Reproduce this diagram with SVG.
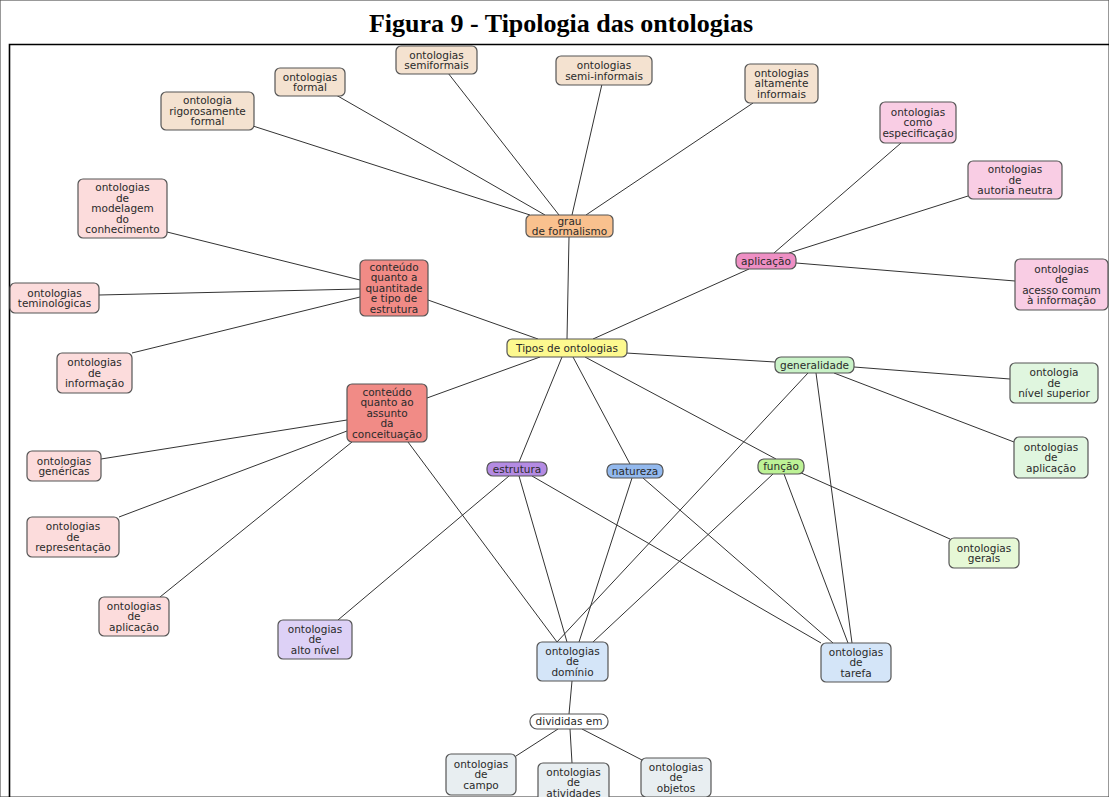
<svg xmlns="http://www.w3.org/2000/svg" width="1109" height="797" viewBox="0 0 1109 797">
<style>
.t{font-family:"DejaVu Sans",Verdana,sans-serif;font-size:10.5px;fill:#2a2a2a;text-anchor:middle}
.title{font-family:"Liberation Serif","Times New Roman",serif;font-size:26px;font-weight:bold;fill:#000;text-anchor:middle}
rect{stroke:#555;stroke-width:1.2}
.beige{fill:#f4e2d0}.orange{fill:#f9c18e}.lpink{fill:#fcdcdc}.salmon{fill:#f18b86}
.pink{fill:#ee8fc4}.ppink{fill:#f9cde4}.yellow{fill:#fdf98f}.lgreen{fill:#c9f2c7}.pgreen{fill:#e0f6df}
.lime{fill:#bdf296}.plime{fill:#e6f8d6}.purple{fill:#b48be3}.lav{fill:#ddd1f6}.blue{fill:#93b9ee}
.lblue{fill:#d4e5f8}.white{fill:#fff}.grey{fill:#e8eef1}
#edges line{stroke:#333;stroke-width:1}
.frame{stroke:#000;stroke-width:1.6;fill:none}
</style>
<rect width="1109" height="797" fill="#fff" stroke="none"/>
<text class="title" x="561" y="32">Figura 9 - Tipologia das ontologias</text>
<path class="frame" d="M9.5,797 V44.5 H1109"/>
<g id="edges">
<line x1="253" y1="126" x2="530" y2="215"/>
<line x1="336" y1="95" x2="545" y2="215"/>
<line x1="448" y1="73" x2="559" y2="215"/>
<line x1="602" y1="84" x2="572" y2="215"/>
<line x1="753" y1="103" x2="586" y2="215"/>
<line x1="569" y1="237" x2="567" y2="339"/>
<line x1="167" y1="232" x2="360" y2="280"/>
<line x1="99" y1="295" x2="360" y2="289"/>
<line x1="132" y1="353" x2="360" y2="297"/>
<line x1="428" y1="300" x2="538" y2="339"/>
<line x1="774" y1="253" x2="901" y2="143"/>
<line x1="789" y1="253" x2="968" y2="196"/>
<line x1="796" y1="263" x2="1015" y2="281"/>
<line x1="749" y1="269" x2="593" y2="339"/>
<line x1="626" y1="353" x2="775" y2="362"/>
<line x1="854" y1="367" x2="1010" y2="379"/>
<line x1="834" y1="373" x2="1014" y2="442"/>
<line x1="808" y1="373" x2="557" y2="642"/>
<line x1="816" y1="373" x2="852" y2="643"/>
<line x1="540" y1="357" x2="427" y2="398"/>
<line x1="562" y1="357" x2="519" y2="462"/>
<line x1="573" y1="357" x2="630" y2="464"/>
<line x1="585" y1="357" x2="776" y2="459"/>
<line x1="347" y1="420" x2="101" y2="459"/>
<line x1="347" y1="431" x2="119" y2="517"/>
<line x1="352" y1="442" x2="160" y2="597"/>
<line x1="408" y1="442" x2="557" y2="642"/>
<line x1="509" y1="476" x2="338" y2="620"/>
<line x1="519" y1="476" x2="567" y2="642"/>
<line x1="532" y1="476" x2="821" y2="643"/>
<line x1="632" y1="478" x2="579" y2="642"/>
<line x1="643" y1="478" x2="833" y2="643"/>
<line x1="773" y1="474" x2="593" y2="642"/>
<line x1="784" y1="474" x2="848" y2="643"/>
<line x1="799" y1="472" x2="950" y2="539"/>
<line x1="572" y1="681" x2="569" y2="714"/>
<line x1="558" y1="729" x2="516" y2="756"/>
<line x1="570" y1="729" x2="572" y2="763"/>
<line x1="582" y1="729" x2="642" y2="760"/>
</g>
<g id="n_rig"><rect class="beige" x="161" y="92" width="93" height="38" rx="5"/><text class="t" x="207.5" y="104.2">ontologia</text><text class="t" x="207.5" y="114.7">rigorosamente</text><text class="t" x="207.5" y="125.2">formal</text></g>
<g id="n_formal"><rect class="beige" x="275" y="68" width="70" height="28" rx="5"/><text class="t" x="310" y="80.5">ontologias</text><text class="t" x="310" y="91">formal</text></g>
<g id="n_semif"><rect class="beige" x="396" y="46" width="81" height="28" rx="5"/><text class="t" x="436.5" y="58.5">ontologias</text><text class="t" x="436.5" y="69">semiformais</text></g>
<g id="n_semiinf"><rect class="beige" x="556" y="56" width="96" height="29" rx="5"/><text class="t" x="604" y="69">ontologias</text><text class="t" x="604" y="79.5">semi-informais</text></g>
<g id="n_alta"><rect class="beige" x="745" y="64" width="73" height="39" rx="5"/><text class="t" x="781.5" y="76.7">ontologias</text><text class="t" x="781.5" y="87.2">altamente</text><text class="t" x="781.5" y="97.7">informais</text></g>
<g id="n_grau"><rect class="orange" x="526" y="215" width="87" height="22" rx="5"/><text class="t" x="569.5" y="224.5">grau</text><text class="t" x="569.5" y="235">de formalismo</text></g>
<g id="n_espec"><rect class="ppink" x="880" y="102" width="76" height="41" rx="5"/><text class="t" x="918" y="115.7">ontologias</text><text class="t" x="918" y="126.2">como</text><text class="t" x="918" y="136.7">especificação</text></g>
<g id="n_autoria"><rect class="ppink" x="968" y="161" width="94" height="38" rx="5"/><text class="t" x="1015" y="173.2">ontologias</text><text class="t" x="1015" y="183.7">de</text><text class="t" x="1015" y="194.2">autoria neutra</text></g>
<g id="n_aplic"><rect class="pink" x="736" y="253" width="60" height="16" rx="6"/><text class="t" x="766" y="264.7">aplicação</text></g>
<g id="n_acesso"><rect class="ppink" x="1015" y="259" width="93" height="51" rx="5"/><text class="t" x="1061.5" y="272.5">ontologias</text><text class="t" x="1061.5" y="283">de</text><text class="t" x="1061.5" y="293.5">acesso comum</text><text class="t" x="1061.5" y="304">à informação</text></g>
<g id="n_modelagem"><rect class="lpink" x="78" y="179" width="89" height="59" rx="5"/><text class="t" x="122.5" y="191.2">ontologias</text><text class="t" x="122.5" y="201.7">de</text><text class="t" x="122.5" y="212.2">modelagem</text><text class="t" x="122.5" y="222.7">do</text><text class="t" x="122.5" y="233.2">conhecimento</text></g>
<g id="n_cq"><rect class="salmon" x="360" y="260" width="68" height="56" rx="5"/><text class="t" x="394" y="270.7">conteúdo</text><text class="t" x="394" y="281.2">quanto a</text><text class="t" x="394" y="291.7">quantitade</text><text class="t" x="394" y="302.2">e tipo de</text><text class="t" x="394" y="312.7">estrutura</text></g>
<g id="n_termin"><rect class="lpink" x="10" y="283" width="89" height="30" rx="5"/><text class="t" x="54.5" y="296.5">ontologias</text><text class="t" x="54.5" y="307">teminológicas</text></g>
<g id="n_inform"><rect class="lpink" x="57" y="353" width="75" height="40" rx="5"/><text class="t" x="94.5" y="366.2">ontologias</text><text class="t" x="94.5" y="376.7">de</text><text class="t" x="94.5" y="387.2">informação</text></g>
<g id="n_tipos"><rect class="yellow" x="507" y="339" width="120" height="18" rx="5"/><text class="t" x="567" y="351.7">Tipos de ontologias</text></g>
<g id="n_gen"><rect class="lgreen" x="775" y="357" width="79" height="16" rx="6"/><text class="t" x="814.5" y="368.7">generalidade</text></g>
<g id="n_nivel"><rect class="pgreen" x="1010" y="363" width="88" height="40" rx="5"/><text class="t" x="1054" y="376.2">ontologia</text><text class="t" x="1054" y="386.7">de</text><text class="t" x="1054" y="397.2">nível superior</text></g>
<g id="n_ca"><rect class="salmon" x="347" y="384" width="80" height="58" rx="5"/><text class="t" x="387" y="395.7">conteúdo</text><text class="t" x="387" y="406.2">quanto ao</text><text class="t" x="387" y="416.7">assunto</text><text class="t" x="387" y="427.2">da</text><text class="t" x="387" y="437.7">conceituação</text></g>
<g id="n_generic"><rect class="lpink" x="27" y="451" width="74" height="30" rx="5"/><text class="t" x="64" y="464.5">ontologias</text><text class="t" x="64" y="475">genéricas</text></g>
<g id="n_estr"><rect class="purple" x="487" y="462" width="60" height="14" rx="6"/><text class="t" x="517" y="472.7">estrutura</text></g>
<g id="n_nat"><rect class="blue" x="607" y="464" width="56" height="14" rx="6"/><text class="t" x="635" y="474.7">natureza</text></g>
<g id="n_func"><rect class="lime" x="758" y="459" width="46" height="15" rx="6"/><text class="t" x="781" y="470.2">função</text></g>
<g id="n_apl_g"><rect class="pgreen" x="1014" y="437" width="74" height="41" rx="5"/><text class="t" x="1051" y="450.7">ontologias</text><text class="t" x="1051" y="461.2">de</text><text class="t" x="1051" y="471.7">aplicação</text></g>
<g id="n_repr"><rect class="lpink" x="27" y="517" width="92" height="40" rx="5"/><text class="t" x="73" y="530.2">ontologias</text><text class="t" x="73" y="540.7">de</text><text class="t" x="73" y="551.2">representação</text></g>
<g id="n_gerais"><rect class="plime" x="949" y="538" width="70" height="30" rx="5"/><text class="t" x="984" y="551.5">ontologias</text><text class="t" x="984" y="562">gerais</text></g>
<g id="n_apl_p"><rect class="lpink" x="99" y="597" width="70" height="39" rx="5"/><text class="t" x="134" y="609.7">ontologias</text><text class="t" x="134" y="620.2">de</text><text class="t" x="134" y="630.7">aplicação</text></g>
<g id="n_alto"><rect class="lav" x="278" y="620" width="74" height="39" rx="5"/><text class="t" x="315" y="632.7">ontologias</text><text class="t" x="315" y="643.2">de</text><text class="t" x="315" y="653.7">alto nível</text></g>
<g id="n_dom"><rect class="lblue" x="537" y="642" width="71" height="39" rx="5"/><text class="t" x="572.5" y="654.7">ontologias</text><text class="t" x="572.5" y="665.2">de</text><text class="t" x="572.5" y="675.7">domínio</text></g>
<g id="n_tar"><rect class="lblue" x="821" y="643" width="70" height="39" rx="5"/><text class="t" x="856" y="655.7">ontologias</text><text class="t" x="856" y="666.2">de</text><text class="t" x="856" y="676.7">tarefa</text></g>
<g id="n_div"><rect class="white" x="530" y="714" width="78" height="15" rx="7"/><text class="t" x="569" y="725.2">divididas em</text></g>
<g id="n_campo"><rect class="grey" x="446" y="754" width="70" height="41" rx="5"/><text class="t" x="481" y="767.7">ontologias</text><text class="t" x="481" y="778.2">de</text><text class="t" x="481" y="788.7">campo</text></g>
<g id="n_ativ"><rect class="grey" x="538" y="763" width="71" height="40" rx="5"/><text class="t" x="573.5" y="775.7">ontologias</text><text class="t" x="573.5" y="786.2">de</text><text class="t" x="573.5" y="796.7">atividades</text></g>
<g id="n_obj"><rect class="grey" x="641" y="758" width="70" height="39" rx="5"/><text class="t" x="676" y="770.7">ontologias</text><text class="t" x="676" y="781.2">de</text><text class="t" x="676" y="791.7">objetos</text></g>
</svg>
